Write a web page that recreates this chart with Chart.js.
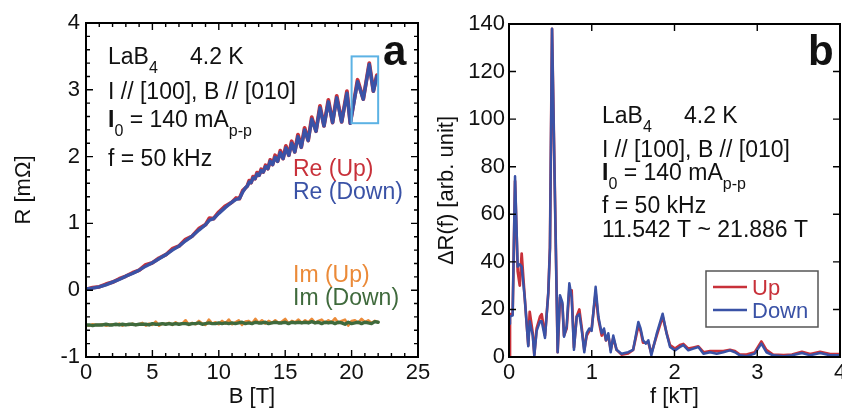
<!DOCTYPE html>
<html>
<head>
<meta charset="utf-8">
<title>LaB4 magnetoresistance and FFT</title>
<script src="https://cdn.jsdelivr.net/npm/chart.js@4.4.1/dist/chart.umd.min.js"></script>
<style>
  html,body{margin:0;padding:0;background:#fff;}
  #wrap{position:relative;width:842px;height:410px;overflow:hidden;}
  #chartA{position:absolute;left:0;top:0;}
  #chartB{position:absolute;left:430px;top:0;}
</style>
</head>
<body>
<div id="wrap">
  <canvas id="chartA" width="430" height="410"></canvas>
  <canvas id="chartB" width="412" height="410"></canvas>
</div>
<script>
'use strict';

/* ── panel a : R vs B ── */
const reB=[0,0.5,1,1.5,2,2.5,3,3.5,4,4.5,
  5,5.5,6,6.5,7,7.5,8,8.5,9,9.3,
  9.6,10,10.5,11,11.3,11.55,11.8,12,12.15,12.29,
  12.43,12.58,12.73,12.88,13.03,13.19,13.35,13.52,13.7,13.87,
  14.05,14.24,14.43,14.63,14.84,15.05,15.27,15.49,15.72,15.96,
  16.21,16.46,16.73,17.0,17.32,17.62,17.92,18.25,18.57,18.88,
  19.25,19.65,19.9,20.45,20.88,21.33,21.64,21.9];
const reDown=[0.02,0.03,0.05,0.08,0.12,0.16,0.21,0.25,0.30,0.36,
  0.41,0.47,0.53,0.60,0.66,0.74,0.81,0.90,0.98,1.05,
  1.07,1.15,1.24,1.32,1.36,1.37,1.47,1.53,1.56,1.62,
  1.61,1.68,1.67,1.74,1.72,1.79,1.77,1.85,1.82,1.93,
  1.88,1.99,1.93,2.06,1.97,2.13,2.02,2.20,2.07,2.30,
  2.14,2.40,2.24,2.56,2.38,2.73,2.46,2.82,2.51,2.88,
  2.52,2.95,2.50,3.12,2.86,3.38,2.98,3.20];
const reUp=[0.01,0.04,0.05,0.09,0.12,0.17,0.21,0.26,0.30,0.38,
  0.41,0.48,0.53,0.62,0.66,0.76,0.81,0.92,0.98,1.08,
  1.07,1.17,1.26,1.32,1.38,1.37,1.49,1.53,1.56,1.64,
  1.61,1.70,1.67,1.76,1.72,1.81,1.77,1.87,1.82,1.95,
  1.88,2.02,1.93,2.09,1.97,2.16,2.02,2.23,2.07,2.33,
  2.14,2.43,2.24,2.59,2.38,2.76,2.46,2.85,2.51,2.91,
  2.52,2.98,2.50,3.15,2.86,3.40,2.98,3.22];

const imB=[0,0.25,0.5,0.75,1,1.25,1.5,1.75,2,
  2.25,2.5,2.75,3,3.25,3.5,3.75,4,
  4.25,4.5,4.75,5,5.25,5.5,5.75,6,
  6.25,6.5,6.75,7,7.25,7.5,7.75,8,
  8.25,8.5,8.75,9,9.25,9.5,9.75,10,
  10.25,10.5,10.75,11,11.25,11.5,11.75,12,
  12.25,12.5,12.75,13,13.25,13.5,13.75,14,
  14.25,14.5,14.75,15,15.25,15.5,15.75,16,
  16.25,16.5,16.75,17,17.25,17.5,17.75,18,
  18.25,18.5,18.75,19,19.25,19.5,19.75,20,
  20.25,20.5,20.75,21,21.25,21.5,21.75,22];
const imUp=[-0.52,-0.53,-0.51,-0.52,-0.52,-0.51,-0.53,-0.52,-0.51,
  -0.52,-0.50,-0.53,-0.51,-0.52,-0.50,-0.52,-0.51,
  -0.49,-0.53,-0.50,-0.52,-0.47,-0.53,-0.50,-0.51,
  -0.49,-0.52,-0.48,-0.51,-0.50,-0.45,-0.52,-0.49,
  -0.51,-0.46,-0.50,-0.52,-0.44,-0.50,-0.48,-0.51,
  -0.46,-0.50,-0.44,-0.51,-0.48,-0.45,-0.52,-0.47,
  -0.46,-0.50,-0.43,-0.49,-0.45,-0.50,-0.46,-0.49,
  -0.45,-0.49,-0.47,-0.43,-0.50,-0.46,-0.48,-0.44,
  -0.49,-0.45,-0.48,-0.43,-0.49,-0.46,-0.44,-0.49,
  -0.45,-0.48,-0.42,-0.49,-0.46,-0.44,-0.53,-0.46,
  -0.45,-0.49,-0.43,-0.48,-0.45,-0.49,-0.46,-0.48];
const imDown=[-0.52,-0.52,-0.53,-0.52,-0.52,-0.52,-0.51,-0.52,-0.52,
  -0.51,-0.52,-0.51,-0.52,-0.51,-0.51,-0.52,-0.51,
  -0.51,-0.51,-0.52,-0.50,-0.51,-0.51,-0.50,-0.51,
  -0.50,-0.51,-0.50,-0.51,-0.50,-0.50,-0.51,-0.50,
  -0.50,-0.49,-0.51,-0.50,-0.49,-0.50,-0.50,-0.49,
  -0.50,-0.49,-0.50,-0.49,-0.50,-0.49,-0.48,-0.50,
  -0.49,-0.50,-0.48,-0.49,-0.49,-0.48,-0.50,-0.49,
  -0.48,-0.49,-0.49,-0.48,-0.50,-0.48,-0.49,-0.48,
  -0.49,-0.48,-0.49,-0.47,-0.49,-0.48,-0.50,-0.48,
  -0.49,-0.48,-0.50,-0.48,-0.49,-0.51,-0.48,-0.50,
  -0.49,-0.48,-0.50,-0.48,-0.49,-0.50,-0.47,-0.48];

// field window used for the FFT, outlined on panel a
const boxB=[20,22];
const boxR=[2.5,3.5];

const bTicks=[0,5,10,15,20,25];
const rTicks=[-1,0,1,2,3,4];

/* ── panel b : FFT amplitude ── */
const fK=[0,0.012,0.044,0.073,0.105,0.13,0.153,0.19,0.233,0.25,
  0.287,0.306,0.334,0.375,0.395,0.435,0.475,0.495,0.52,0.588,
  0.616,0.645,0.665,0.697,0.729,0.757,0.785,0.818,0.85,0.88,
  0.91,0.939,0.971,0.999,1.047,1.08,1.12,1.148,1.172,1.2,
  1.229,1.26,1.30,1.36,1.44,1.50,1.563,1.59,1.62,1.655,
  1.684,1.72,1.785,1.857,1.905,1.946,2.006,2.066,2.107,2.167,
  2.228,2.288,2.35,2.43,2.51,2.59,2.67,2.73,2.79,2.87,
  2.97,3.05,3.11,3.19,3.32,3.42,3.54,3.64,3.76,3.88,
  4.0];
const dDown=[14,17,17.5,76,38,39,38,25,4.5,15,
  9,0.5,11,15,15,8,27,46,138,2,
  26,23,8.5,13,31,25,3,17,18,11,
  2,10,12,11,29.5,17,10,12,7,10,
  2,9,3,1.4,2,3,14.7,12,7,5.6,
  7,0.7,9.8,18.2,9.8,4.2,2.8,4.2,5,2.8,
  3.5,4.2,1.4,2,1.4,2,2.8,2,0.7,0.3,
  1.4,5.6,2,0.7,0.3,0.7,1.7,0.7,1.7,0.7,
  0.7];
const dUp=[0,18,18,74,36,30,43.5,25,5,19,
  10,1,12,17,18,9,27,46,138,2,
  25,22,9,12,28,28,4,17,20,12,
  3,9,11,12,27,16,9,11,7,9,
  3,8,3,1,1.5,3,13,11,6,6,
  6,1.5,9,17,10,5,3.5,5,5.5,3.5,
  4,4.5,2,2.5,2.5,2.5,3,2.5,1,1,
  2,6.5,3,1,0.8,1,2.2,1.2,2.2,1.2,
  1.2];

const fTicks=[0,1,2,3,4];
const aTicks=[0,20,40,60,80,100,120,140];

/* ── styling ── */
const FONT="'Liberation Sans', Arial, Helvetica, sans-serif";
const RED='#c8313a', BLUE='#3a52a6', ORANGE='#eb8a38', GREEN='#3f6a3c', SKY='#5cb2e4';
Chart.defaults.font.family=FONT;
Chart.defaults.color='#111';

const pts=(xs,ys)=>xs.map((v,i)=>({x:v,y:ys[i]}));

// frame + inward ticks on all four sides
const frameTicks={
  id:'frameTicks',
  afterDatasetsDraw(chart,args,o){
    const {ctx,chartArea:a}=chart;
    const sx=chart.scales.x, sy=chart.scales.y;
    ctx.save();
    ctx.strokeStyle='#000';
    ctx.lineWidth=1.4;
    ctx.beginPath();
    const marks=(s,step,len)=>{
      if(!step)return;
      const n=Math.round((s.max-s.min)/step);
      for(let i=0;i<=n;i++){
        const p=s.getPixelForValue(s.min+i*step);
        if(s.isHorizontal()){
          ctx.moveTo(p,a.bottom);ctx.lineTo(p,a.bottom-len);
          ctx.moveTo(p,a.top);ctx.lineTo(p,a.top+len);
        }else{
          ctx.moveTo(a.left,p);ctx.lineTo(a.left+len,p);
          ctx.moveTo(a.right,p);ctx.lineTo(a.right-len,p);
        }
      }
    };
    marks(sx,o.xMinor,4);marks(sx,o.xMajor,7);
    marks(sy,o.yMinor,4);marks(sy,o.yMajor,7);
    ctx.stroke();
    ctx.lineWidth=2;
    ctx.strokeRect(a.left,a.top,a.right-a.left,a.bottom-a.top);
    ctx.restore();
  }
};

// text with sub-scripts / bold pieces laid out left to right
function run(ctx,x,y,parts,size){
  for(const [t,k] of parts){
    const sub=k==='s';
    ctx.font=(k==='b'?'bold ':'')+(sub?16:size)+'px '+FONT;
    ctx.fillText(t,x,sub?y+9:y);
    x+=ctx.measureText(t).width;
  }
}

function sampleNotes(ctx,x,y0,lines){
  ctx.fillStyle='#111';
  run(ctx,x,y0[0],[['LaB'],['4','s']],23);
  run(ctx,x+lines.kx,y0[0],[['4.2 K']],23);
  run(ctx,x,y0[1],[['I // [100], B // [010]']],23);
  run(ctx,x,y0[2],[['I','b'],['0','s'],[' = 140 mA'],['p-p','s']],23);
  run(ctx,x,y0[3],[['f = 50 kHz']],23);
}

const notesA={
  id:'notesA',
  afterDraw(chart){
    const {ctx}=chart;
    const sx=chart.scales.x, sy=chart.scales.y;
    ctx.save();
    ctx.textAlign='left';ctx.textBaseline='alphabetic';
    // FFT window
    const x0=sx.getPixelForValue(boxB[0]), x1=sx.getPixelForValue(boxB[1]);
    const y0=sy.getPixelForValue(boxR[1]), y1=sy.getPixelForValue(boxR[0]);
    ctx.strokeStyle=SKY;ctx.lineWidth=2;
    ctx.strokeRect(x0,y0,x1-x0,y1-y0);

    sampleNotes(ctx,108,[64,99,127,166],{kx:82});
    ctx.font='23px '+FONT;
    ctx.fillStyle=RED;ctx.fillText('Re (Up)',293,176);
    ctx.fillStyle=BLUE;ctx.fillText('Re (Down)',293,199);
    ctx.fillStyle=ORANGE;ctx.fillText('Im (Up)',293,282);
    ctx.fillStyle=GREEN;ctx.fillText('Im (Down)',293,305);
    ctx.fillStyle='#111';
    ctx.font='bold 42px '+FONT;
    ctx.fillText('a',383,65);
    ctx.restore();
  }
};

const notesB={
  id:'notesB',
  afterDraw(chart){
    const {ctx}=chart;
    ctx.save();
    ctx.textAlign='left';ctx.textBaseline='alphabetic';
    sampleNotes(ctx,172,[123,157,180,213],{kx:82});
    run(ctx,172,237,[['11.542 T ~ 21.886 T']],23);
    ctx.font='bold 42px '+FONT;
    ctx.fillText('b',378,65);

    // legend
    ctx.strokeStyle='#555';ctx.lineWidth=1.5;
    ctx.strokeRect(276,271,112,56);
    ctx.lineWidth=2.4;
    ctx.strokeStyle=RED;
    ctx.beginPath();ctx.moveTo(283,287);ctx.lineTo(317,287);ctx.stroke();
    ctx.strokeStyle=BLUE;
    ctx.beginPath();ctx.moveTo(283,310);ctx.lineTo(317,310);ctx.stroke();
    ctx.font='22px '+FONT;
    ctx.fillStyle=RED;ctx.fillText('Up',322,295);
    ctx.fillStyle=BLUE;ctx.fillText('Down',322,318);
    ctx.restore();
  }
};

function axis(ticks,title,opt){
  return {
    type:'linear',
    min:ticks[0],max:ticks[ticks.length-1],
    afterBuildTicks:s=>{s.ticks=ticks.map(v=>({value:v}));},
    afterFit:opt.fit,
    grid:{display:false,drawTicks:false},
    border:{display:false},
    ticks:{autoSkip:false,maxRotation:0,padding:opt.pad,font:{size:22},color:'#111'},
    title:{display:true,text:title,font:{size:22},color:'#111',padding:opt.tpad}
  };
}

const baseOpts={
  responsive:false,
  animation:false,
  events:[],
  elements:{point:{radius:0},line:{tension:0,borderJoinStyle:'round',borderCapStyle:'round'}},
};

new Chart(document.getElementById('chartA'),{
  type:'line',
  data:{datasets:[
    {label:'Re (Down)',data:pts(reB,reDown),borderColor:BLUE,borderWidth:3.4,order:0},
    {label:'Re (Up)',data:pts(reB,reUp),borderColor:RED,borderWidth:3.8,order:1},
    {label:'Im (Down)',data:pts(imB,imDown),borderColor:GREEN,borderWidth:3.4,order:2},
    {label:'Im (Up)',data:pts(imB,imUp),borderColor:ORANGE,borderWidth:2.6,order:3}
  ]},
  options:{...baseOpts,
    layout:{padding:{top:23,right:12,left:0,bottom:0}},
    plugins:{legend:{display:false},tooltip:{enabled:false},
      frameTicks:{xMajor:5,xMinor:1,yMajor:1,yMinor:0.2}},
    scales:{
      x:axis(bTicks,'B [T]',{pad:3,tpad:{top:0,bottom:0},
        fit:s=>{s.height=53;s.paddingLeft=0;s.paddingRight=0;}}),
      y:axis(rTicks,'R [mΩ]',{pad:6,tpad:{top:11,bottom:0},
        fit:s=>{s.width=86;s.paddingTop=0;s.paddingBottom=0;}})
    }
  },
  plugins:[frameTicks,notesA]
});

new Chart(document.getElementById('chartB'),{
  type:'line',
  data:{datasets:[
    {label:'Down',data:pts(fK,dDown),borderColor:BLUE,borderWidth:2.5,order:0},
    {label:'Up',data:pts(fK,dUp),borderColor:RED,borderWidth:2.7,order:1}
  ]},
  options:{...baseOpts,
    layout:{padding:{top:24,right:2,left:0,bottom:0}},
    plugins:{legend:{display:false},tooltip:{enabled:false},
      frameTicks:{xMajor:1,yMajor:20}},
    scales:{
      x:axis(fTicks,'f [kT]',{pad:3,tpad:{top:0,bottom:0},
        fit:s=>{s.height=53;s.paddingLeft=0;s.paddingRight=0;}}),
      y:axis(aTicks,'ΔR(f) [arb. unit]',{pad:4,tpad:{top:4,bottom:0},
        fit:s=>{s.width=79;s.paddingTop=0;s.paddingBottom=0;}})
    }
  },
  plugins:[frameTicks,notesB]
});
</script>
</body>
</html>
